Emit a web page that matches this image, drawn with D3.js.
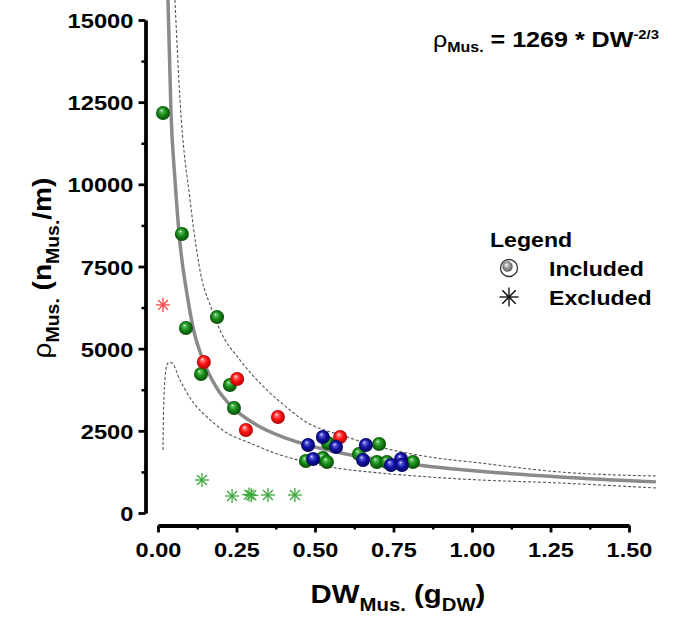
<!DOCTYPE html>
<html><head><meta charset="utf-8">
<script src="https://cdn.jsdelivr.net/npm/d3@7"></script>
<style>html,body{margin:0;padding:0;background:#fff;}svg{display:block;}text{font-family:"Liberation Sans",Arial,sans-serif;}</style>
</head><body><div id="chart"></div>
<script>
// ---------- data ----------
const xTicks = [0, 0.25, 0.5, 0.75, 1.0, 1.25, 1.5];
const xTickLabels = ["0.00","0.25","0.50","0.75","1.00","1.25","1.50"];
const yTicks = [0, 2500, 5000, 7500, 10000, 12500, 15000];
const yTickLabels = ["0","2500","5000","7500","10000","12500","15000"];

// Included (spheres)
const incGreenDW  = [0.016,0.076,0.089,0.188,0.137,0.229,0.242,0.541,0.471,0.525,0.538,0.704,0.640,0.697,0.729,0.812];
const incGreenRho = [12170,8490,5630,5960,4230,3895,3195,2130,1582,1674,1552,2100,1795,1552,1552,1552];
const incRedDW    = [0.146,0.252,0.382,0.280,0.580];
const incRedRho   = [4595,4078,2921,2526,2313];
const incBlueDW   = [0.478,0.525,0.567,0.494,0.662,0.653,0.742,0.774,0.777];
const incBlueRho  = [2069,2313,2008,1643,2069,1613,1461,1643,1461];

// Excluded (asterisks)
const excRedDW    = [0.016];
const excRedRho   = [6330];
const excGreenDW  = [0.140,0.236,0.290,0.297,0.350,0.436];
const excGreenRho = [1004,517,560,540,548,548];

// Fitted curve rho = 1269 * DW^(-2/3), as drawn
const fitDW  = [0.0318,0.0414,0.0541,0.0669,0.0955,0.1115,0.1433,0.1879,0.2389,0.3153,0.3981,0.4841,0.6019,0.7389,0.8662,1.0255,1.2803,1.5860];
const fitRho = [15611,12172,10133,8520,6482,5650,4656,3793,3200,2672,2310,2050,1789,1569,1418,1273,1098,947];

// Dashed bands
const upperDW  = [0.054,0.070,0.102,0.140,0.166,0.197,0.261,0.347,0.420,0.452,0.602,0.707,0.866,1.025,1.280,1.586];
const upperRho = [15611,12568,9525,7090,6330,5569,4656,3743,3134,2891,2313,2008,1704,1522,1248,1126];
const lowerDW  = [0.016,0.022,0.032,0.045,0.070,0.111,0.156,0.220,0.293,0.389,0.548,0.707,0.866,1.025,1.280,1.586];
const lowerRho = [1917,4047,4565,4565,4047,3378,2921,2434,2130,1765,1400,1217,1095,1004,913,761];

// ---------- chart ----------
const W = 689, H = 618;
const svg = d3.select("#chart").append("svg").attr("width", W).attr("height", H);
const x = d3.scaleLinear().domain([0, 1.5]).range([158, 629]);
const y = d3.scaleLinear().domain([0, 15000]).range([513, 20]);

const defs = svg.append("defs");
function grad(id, light, mid, dark) {
  const g = defs.append("radialGradient").attr("id", id)
    .attr("cx", "50%").attr("cy", "50%").attr("r", "55%").attr("fx", "38%").attr("fy", "30%");
  g.append("stop").attr("offset", "0%").attr("stop-color", "#ffffff");
  g.append("stop").attr("offset", "16%").attr("stop-color", light);
  g.append("stop").attr("offset", "50%").attr("stop-color", mid);
  g.append("stop").attr("offset", "100%").attr("stop-color", dark);
}
grad("gGreen", "#5fbf5f", "#178c17", "#054005");
grad("gRed", "#ff8080", "#ff1414", "#a00000");
grad("gBlue", "#6a6ae0", "#1414a8", "#000050");
grad("gGray", "#d8d8d8", "#9a9a9a", "#505050");

// Lines
const line = d3.line().x(d => x(d[0])).y(d => y(d[1])).curve(d3.curveMonotoneX);
svg.append("path").attr("d", line(upperDW.map((d, i) => [d, upperRho[i]])))
  .attr("fill", "none").attr("stroke", "#555").attr("stroke-width", 1.1).attr("stroke-dasharray", "3,2");
svg.append("path").attr("d", d3.line().x(d => x(d[0])).y(d => y(d[1])).curve(d3.curveCatmullRom.alpha(0.5))(lowerDW.map((d, i) => [d, lowerRho[i]])))
  .attr("fill", "none").attr("stroke", "#555").attr("stroke-width", 1.1).attr("stroke-dasharray", "3,2");
svg.append("path").attr("d", line(fitDW.map((d, i) => [d, fitRho[i]])))
  .attr("fill", "none").attr("stroke", "#8a8a8a").attr("stroke-width", 3.5);

// Asterisks
function asterisk(g, cx, cy, r, color, sw) {
  for (let k = 0; k < 4; k++) {
    const a = k * Math.PI / 4;
    g.append("line").attr("x1", cx - r * Math.cos(a)).attr("y1", cy - r * Math.sin(a))
      .attr("x2", cx + r * Math.cos(a)).attr("y2", cy + r * Math.sin(a))
      .attr("stroke", color).attr("stroke-width", sw);
  }
}
const gAst = svg.append("g");
excGreenDW.forEach((d, i) => asterisk(gAst, x(d), y(excGreenRho[i]), 7, "#3aa83a", 1.3));
excRedDW.forEach((d, i) => asterisk(gAst, x(d), y(excRedRho[i]), 7, "#ff4040", 1.3));

// Spheres
const gPts = svg.append("g");
function spheres(dw, rho, fill) {
  dw.forEach((d, i) => {
    gPts.append("circle").attr("cx", x(d)).attr("cy", y(rho[i])).attr("r", 7)
      .attr("fill", `url(#${fill})`);
  });
}
spheres(incGreenDW, incGreenRho, "gGreen");
spheres(incRedDW, incRedRho, "gRed");
spheres(incBlueDW, incBlueRho, "gBlue");

// Axes
const fontFam = "Liberation Sans, Arial, sans-serif";
const yAxisG = svg.append("g").attr("transform", "translate(145.5,0)");
yAxisG.call(d3.axisLeft(y).tickValues(d3.range(1250, 15000, 2500)).tickSize(4).tickSizeOuter(0).tickFormat(""));
yAxisG.selectAll(".tick line").attr("stroke-width", 2.5);
const yAxisM = svg.append("g").attr("transform", "translate(145.5,0)");
yAxisM.call(d3.axisLeft(y).tickValues(yTicks).tickSize(7).tickSizeOuter(0).tickFormat((d, i) => yTickLabels[i]));
yAxisM.select(".domain").attr("stroke-width", 3.8);
yAxisM.selectAll(".tick line").attr("stroke-width", 2.8);
yAxisM.selectAll(".tick text").attr("x", null).attr("dy", null)
  .attr("transform", "translate(-12,7.5) scale(1.13,1)")
  .attr("font-size", 21).attr("font-weight", "bold").attr("fill", "#000").attr("font-family", fontFam);

const xAxisG = svg.append("g").attr("transform", "translate(0,525.5)");
xAxisG.call(d3.axisBottom(x).tickValues(d3.range(0.125, 1.5, 0.25)).tickSize(4).tickSizeOuter(0).tickFormat(""));
xAxisG.selectAll(".tick line").attr("stroke-width", 2.5);
const xAxisM = svg.append("g").attr("transform", "translate(0,525.5)");
xAxisM.call(d3.axisBottom(x).tickValues(xTicks).tickSize(7).tickSizeOuter(0).tickFormat((d, i) => xTickLabels[i]));
xAxisM.select(".domain").attr("stroke-width", 3.8);
xAxisM.selectAll(".tick line").attr("stroke-width", 2.8);
xAxisM.selectAll(".tick text").attr("y", null).attr("dy", null)
  .attr("transform", "translate(0,31) scale(1.12,1)")
  .attr("font-size", 21).attr("font-weight", "bold").attr("fill", "#000").attr("font-family", fontFam);

// Axis titles
const xt = svg.append("text").attr("transform", "translate(398,603) scale(1.13,1)").attr("text-anchor", "middle")
  .attr("font-weight", "bold").attr("font-size", 26);
xt.append("tspan").text("DW");
xt.append("tspan").attr("font-size", 18).attr("dy", 8).text("Mus.");
xt.append("tspan").attr("dy", -8).text(" (g");
xt.append("tspan").attr("font-size", 18).attr("dy", 8).text("DW");
xt.append("tspan").attr("dy", -8).text(")");

const yt = svg.append("text").attr("transform", "translate(51,268) rotate(-90) scale(1.08,1)").attr("text-anchor", "middle")
  .attr("font-weight", "bold").attr("font-size", 26);
yt.append("tspan").attr("font-weight", "normal").text("ρ");
yt.append("tspan").attr("font-size", 18).attr("dy", 8).text("Mus.");
yt.append("tspan").attr("dy", -8).text(" (n");
yt.append("tspan").attr("font-size", 18).attr("dy", 8).text("Mus.");
yt.append("tspan").attr("dy", -8).text("/m)");

// Equation
const eq = svg.append("text").attr("transform", "translate(433,47) scale(1.14,1)")
  .attr("font-weight", "bold").attr("font-size", 22);
eq.append("tspan").attr("font-weight", "normal").text("ρ");
eq.append("tspan").attr("font-size", 14).attr("dy", 5).text("Mus.");
eq.append("tspan").attr("dy", -5).text(" = 1269 * DW");
eq.append("tspan").attr("font-size", 13).attr("dy", -8).text("-2/3");

// Legend
svg.append("text").attr("transform", "translate(490,247) scale(1.1,1)").attr("font-weight", "bold").attr("font-size", 21).text("Legend");
svg.append("circle").attr("cx", 509).attr("cy", 268).attr("r", 8.5).attr("fill", "#fff").attr("stroke", "#333").attr("stroke-width", 1.3);
svg.append("circle").attr("cx", 507.5).attr("cy", 266.5).attr("r", 5.2).attr("fill", "url(#gGray)");
svg.append("text").attr("transform", "translate(549,276) scale(1.1,1)").attr("font-weight", "bold").attr("font-size", 21).text("Included");
asterisk(svg.append("g"), 509, 297, 9.5, "#000", 1.3);
svg.append("text").attr("transform", "translate(549,305) scale(1.1,1)").attr("font-weight", "bold").attr("font-size", 21).text("Excluded");
</script></body></html>
